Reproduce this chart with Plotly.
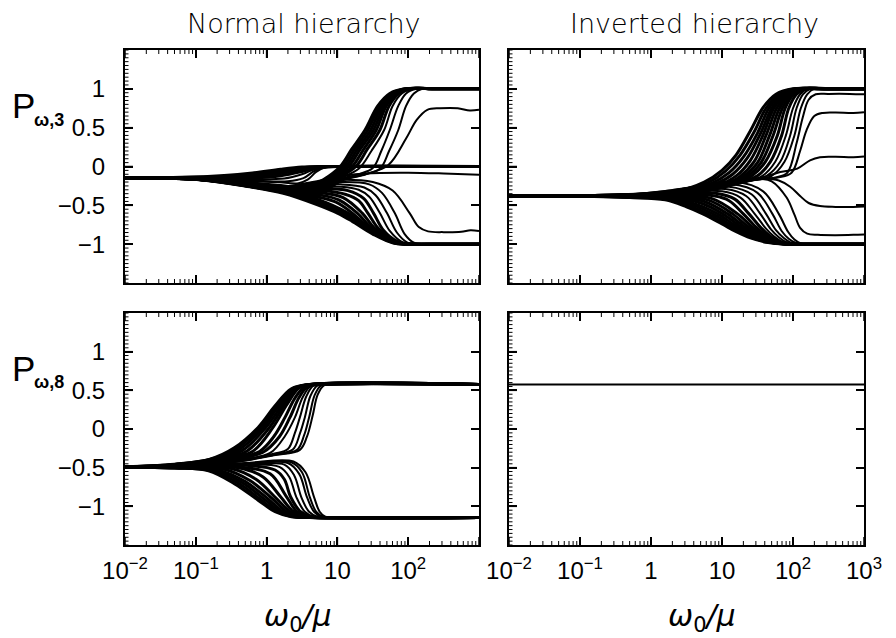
import plotly.graph_objects as go

# ---------------- data (knots) ----------------
# every curve = list of [log10(omega0/mu), P] knots
TL_TO_ZERO = [
    [[-2,-0.145],[-1.2,-0.14],[-0.6,-0.115],[-0.2,-0.082],[0.2,-0.035],[0.5,-0.008],[0.8,0],[1.3,0],[3,0]],
    [[-2,-0.145],[-1.2,-0.143],[-0.6,-0.126],[-0.2,-0.097],[0.2,-0.05],[0.5,-0.015],[0.8,-0.001],[1.3,0],[3,0]],
    [[-2,-0.145],[-1.2,-0.145],[-0.6,-0.136],[-0.2,-0.112],[0.2,-0.068],[0.5,-0.025],[0.8,-0.002],[1.3,0],[3,0]],
    [[-2,-0.145],[-1.2,-0.147],[-0.6,-0.146],[-0.2,-0.13],[0.2,-0.09],[0.5,-0.04],[0.75,-0.006],[1.3,0],[3,0]],
    [[-2,-0.145],[-1.2,-0.149],[-0.6,-0.155],[-0.2,-0.148],[0.2,-0.118],[0.5,-0.065],[0.72,-0.015],[1.0,0],[3,0]],
    [[-2,-0.145],[-1.2,-0.151],[-0.6,-0.162],[-0.2,-0.165],[0.25,-0.155],[0.5,-0.1],[0.7,-0.028],[0.95,0],[3,0]],
    [[-2,-0.145],[-1.2,-0.152],[-0.6,-0.168],[-0.2,-0.18],[0.3,-0.19],[0.52,-0.15],[0.68,-0.055],[0.88,-0.004],[1.2,0],[3,0]],
    [[-2,-0.145],[-1.2,-0.153],[-0.6,-0.172],[-0.2,-0.19],[0.15,-0.2],[0.45,-0.215],[0.58,-0.17],[0.7,-0.07],[0.82,-0.012],[1.0,0],[1.4,0],[3,0]],
]
TL_TO_PLUS = [
    [[-2,-0.145],[-1,-0.16],[-0.3,-0.205],[0.2,-0.245],[0.55,-0.27],[0.8,-0.17],[1.04,0.0],[1.2,0.22],[1.39,0.47],[1.57,0.78],[1.74,0.94],[1.95,1.0],[2.4,1.0],[3,1.0]],
    [[-2,-0.145],[-1,-0.161],[-0.3,-0.21],[0.2,-0.255],[0.58,-0.28],[0.84,-0.17],[1.08,0.0],[1.24,0.22],[1.43,0.47],[1.6,0.78],[1.77,0.94],[1.97,1.0],[2.4,1.0],[3,1.0]],
    [[-2,-0.145],[-1,-0.162],[-0.3,-0.215],[0.2,-0.265],[0.6,-0.29],[0.88,-0.17],[1.12,0.0],[1.28,0.22],[1.47,0.47],[1.63,0.78],[1.79,0.94],[1.98,1.0],[2.4,1.0],[3,1.0]],
    [[-2,-0.145],[-1,-0.163],[-0.3,-0.22],[0.2,-0.275],[0.62,-0.3],[0.92,-0.165],[1.16,0.0],[1.32,0.22],[1.51,0.47],[1.66,0.78],[1.81,0.94],[2.0,1.0],[2.4,1.0],[3,1.0]],
    [[-2,-0.145],[-1,-0.164],[-0.3,-0.225],[0.2,-0.285],[0.64,-0.31],[0.96,-0.16],[1.21,0.0],[1.37,0.22],[1.55,0.47],[1.69,0.78],[1.84,0.94],[2.02,1.0],[2.4,1.0],[3,1.0]],
    [[-2,-0.145],[-1,-0.165],[-0.3,-0.23],[0.2,-0.295],[0.66,-0.32],[1.0,-0.155],[1.26,0.0],[1.42,0.22],[1.6,0.47],[1.73,0.78],[1.87,0.94],[2.04,1.0],[2.4,1.0],[3,1.0]],
    [[-2,-0.145],[-1,-0.166],[-0.3,-0.235],[0.2,-0.305],[0.68,-0.33],[1.02,-0.16],[1.3,-0.03],[1.48,0.2],[1.66,0.47],[1.78,0.78],[1.91,0.94],[2.07,1.0],[2.5,1.0],[3,1.0]],
    [[-2,-0.145],[-1,-0.167],[-0.3,-0.24],[0.2,-0.315],[0.7,-0.34],[1.02,-0.17],[1.3,-0.1],[1.5,-0.02],[1.62,0.2],[1.74,0.47],[1.86,0.78],[1.97,0.94],[2.12,1.0],[2.5,1.0],[3,1.0]],
    [[-2,-0.145],[-1,-0.168],[-0.3,-0.245],[0.2,-0.325],[0.72,-0.35],[1.03,-0.18],[1.35,-0.11],[1.6,-0.03],[1.73,0.2],[1.86,0.47],[1.97,0.78],[2.08,0.94],[2.2,1.0],[2.6,1.0],[3,1.0]],
    [[-2,-0.145],[-1,-0.169],[-0.3,-0.25],[0.2,-0.33],[0.74,-0.36],[1.05,-0.19],[1.4,-0.1],[1.72,0.02],[1.97,0.36],[2.12,0.6],[2.27,0.73],[2.45,0.75],[2.7,0.75],[2.87,0.72],[3,0.73]],
]
TL_TO_MINUS = [
    [[-2,-0.145],[-0.94,-0.17],[-0.235,-0.262],[0.236,-0.345],[0.71,-0.49],[1.0,-0.6],[1.2,-0.7],[1.5,-0.87],[1.79,-0.985],[2.1,-1.0],[3,-1.0]],
    [[-2,-0.145],[-0.94,-0.169],[-0.235,-0.258],[0.236,-0.335],[0.71,-0.47],[1.05,-0.6],[1.25,-0.71],[1.55,-0.88],[1.82,-0.988],[2.1,-1.0],[3,-1.0]],
    [[-2,-0.145],[-0.94,-0.168],[-0.235,-0.254],[0.236,-0.325],[0.71,-0.445],[1.1,-0.6],[1.3,-0.72],[1.59,-0.89],[1.85,-0.99],[2.15,-1.0],[3,-1.0]],
    [[-2,-0.145],[-0.94,-0.167],[-0.235,-0.25],[0.236,-0.315],[0.71,-0.42],[1.15,-0.6],[1.35,-0.73],[1.63,-0.9],[1.88,-0.99],[2.15,-1.0],[3,-1.0]],
    [[-2,-0.145],[-0.94,-0.166],[-0.235,-0.246],[0.236,-0.305],[0.71,-0.39],[0.98,-0.46],[1.21,-0.6],[1.4,-0.75],[1.67,-0.91],[1.9,-0.99],[2.2,-1.0],[3,-1.0]],
    [[-2,-0.145],[-0.94,-0.165],[-0.235,-0.242],[0.236,-0.298],[0.71,-0.36],[1.02,-0.43],[1.28,-0.6],[1.46,-0.77],[1.71,-0.93],[1.93,-0.995],[2.2,-1.0],[3,-1.0]],
    [[-2,-0.145],[-0.94,-0.164],[-0.235,-0.238],[0.236,-0.29],[0.71,-0.33],[1.08,-0.4],[1.35,-0.6],[1.52,-0.79],[1.75,-0.94],[1.96,-0.998],[2.3,-1.0],[3,-1.0]],
    [[-2,-0.145],[-0.94,-0.163],[-0.235,-0.234],[0.236,-0.283],[0.71,-0.3],[1.12,-0.36],[1.3,-0.44],[1.43,-0.6],[1.58,-0.8],[1.79,-0.95],[1.99,-1.0],[2.3,-1.0],[3,-1.0]],
    [[-2,-0.145],[-0.94,-0.162],[-0.235,-0.23],[0.236,-0.277],[0.71,-0.28],[1.15,-0.31],[1.37,-0.41],[1.51,-0.6],[1.65,-0.82],[1.84,-0.96],[2.03,-1.0],[2.4,-1.0],[3,-1.0]],
    [[-2,-0.145],[-0.94,-0.161],[-0.235,-0.226],[0.236,-0.272],[0.71,-0.26],[1.05,-0.26],[1.3,-0.3],[1.45,-0.39],[1.6,-0.6],[1.74,-0.83],[1.91,-0.97],[2.08,-1.0],[2.4,-1.0],[3,-1.0]],
    [[-2,-0.145],[-0.94,-0.16],[-0.235,-0.222],[0.236,-0.268],[0.71,-0.24],[1.05,-0.23],[1.38,-0.27],[1.54,-0.37],[1.7,-0.6],[1.84,-0.85],[1.99,-0.98],[2.14,-1.0],[2.5,-1.0],[3,-1.0]],
    [[-2,-0.145],[-0.94,-0.159],[-0.235,-0.218],[0.236,-0.264],[0.71,-0.22],[1.05,-0.2],[1.45,-0.23],[1.63,-0.34],[1.81,-0.6],[1.95,-0.87],[2.08,-0.98],[2.22,-1.0],[2.6,-1.0],[3,-1.0]],
    [[-2,-0.145],[-0.94,-0.158],[-0.235,-0.214],[0.236,-0.26],[0.71,-0.2],[1.05,-0.17],[1.5,-0.2],[1.78,-0.31],[2.02,-0.6],[2.15,-0.78],[2.28,-0.835],[2.5,-0.845],[2.75,-0.84],[2.88,-0.82],[3,-0.83]],
    [[-2,-0.145],[-0.94,-0.157],[-0.235,-0.21],[0.236,-0.255],[0.71,-0.19],[1.0,-0.135],[1.25,-0.1],[1.6,-0.083],[2.0,-0.08],[2.5,-0.09],[3,-0.105]],
]
TR_TO_PLUS = [
    [[-2,-0.378],[-0.8,-0.372],[-0.2,-0.356],[0.35,-0.32],[0.75,-0.2],[1.0,-0.05],[1.2,0.15],[1.4,0.46],[1.58,0.76],[1.76,0.93],[2.0,1.0],[2.4,1.0],[3,1.0]],
    [[-2,-0.378],[-0.8,-0.373],[-0.2,-0.36],[0.4,-0.33],[0.8,-0.21],[1.05,-0.06],[1.25,0.14],[1.45,0.44],[1.62,0.75],[1.8,0.93],[2.03,1.0],[2.4,1.0],[3,1.0]],
    [[-2,-0.378],[-0.8,-0.374],[-0.2,-0.362],[0.4,-0.34],[0.85,-0.22],[1.1,-0.08],[1.3,0.12],[1.5,0.43],[1.66,0.75],[1.83,0.93],[2.05,1.0],[2.4,1.0],[3,1.0]],
    [[-2,-0.378],[-0.8,-0.375],[-0.2,-0.364],[0.4,-0.345],[0.9,-0.23],[1.15,-0.1],[1.35,0.1],[1.54,0.42],[1.7,0.75],[1.86,0.93],[2.07,1.0],[2.4,1.0],[3,1.0]],
    [[-2,-0.378],[-0.8,-0.375],[-0.2,-0.366],[0.4,-0.35],[0.95,-0.24],[1.2,-0.12],[1.4,0.08],[1.58,0.41],[1.73,0.75],[1.89,0.93],[2.09,1.0],[2.5,1.0],[3,1.0]],
    [[-2,-0.378],[-0.8,-0.376],[-0.2,-0.367],[0.4,-0.353],[1.0,-0.245],[1.25,-0.13],[1.45,0.06],[1.62,0.4],[1.77,0.75],[1.92,0.93],[2.11,1.0],[2.5,1.0],[3,1.0]],
    [[-2,-0.378],[-0.8,-0.376],[-0.2,-0.368],[0.4,-0.356],[1.05,-0.24],[1.3,-0.13],[1.5,0.05],[1.67,0.4],[1.81,0.75],[1.95,0.93],[2.12,1.0],[2.5,1.0],[3,1.0]],
    [[-2,-0.378],[-0.8,-0.377],[-0.2,-0.369],[0.4,-0.358],[1.1,-0.235],[1.35,-0.13],[1.55,0.05],[1.72,0.4],[1.85,0.75],[1.98,0.93],[2.14,1.0],[2.5,1.0],[3,1.0]],
    [[-2,-0.378],[-0.8,-0.377],[-0.2,-0.37],[0.4,-0.36],[1.15,-0.23],[1.42,-0.12],[1.61,0.06],[1.78,0.4],[1.89,0.75],[2.01,0.93],[2.16,1.0],[2.5,1.0],[3,1.0]],
    [[-2,-0.378],[-0.8,-0.377],[-0.2,-0.371],[0.4,-0.362],[1.2,-0.22],[1.5,-0.12],[1.68,0.06],[1.84,0.4],[1.94,0.75],[2.05,0.93],[2.18,1.0],[2.6,1.0],[3,1.0]],
    [[-2,-0.378],[-0.8,-0.377],[-0.2,-0.372],[0.4,-0.364],[1.25,-0.21],[1.57,-0.12],[1.75,0.06],[1.9,0.4],[2.0,0.75],[2.1,0.93],[2.21,1.0],[2.6,1.0],[3,1.0]],
    [[-2,-0.378],[-0.8,-0.378],[-0.2,-0.373],[0.4,-0.366],[1.3,-0.2],[1.63,-0.12],[1.82,0.06],[1.96,0.4],[2.05,0.75],[2.14,0.93],[2.25,1.0],[2.6,1.0],[3,1.0]],
    [[-2,-0.378],[-0.8,-0.378],[-0.2,-0.374],[0.4,-0.368],[1.35,-0.19],[1.7,-0.12],[1.88,0.06],[2.02,0.4],[2.11,0.75],[2.2,0.93],[2.3,1.0],[2.7,1.0],[3,1.0]],
    [[-2,-0.378],[-0.8,-0.378],[-0.2,-0.375],[0.4,-0.37],[1.4,-0.18],[1.75,-0.14],[1.92,-0.08],[2.05,0.3],[2.14,0.64],[2.22,0.86],[2.32,0.93],[2.5,0.935],[2.8,0.935],[3,0.93]],
    [[-2,-0.378],[-0.8,-0.378],[-0.2,-0.376],[0.4,-0.372],[1.45,-0.17],[1.8,-0.14],[1.98,-0.08],[2.1,0.2],[2.19,0.466],[2.3,0.65],[2.42,0.69],[2.6,0.695],[2.85,0.69],[3,0.7]],
    [[-2,-0.378],[-0.8,-0.378],[-0.2,-0.377],[0.4,-0.374],[1.5,-0.16],[1.82,-0.07],[2.06,-0.027],[2.24,0.08],[2.38,0.12],[2.6,0.125],[2.85,0.12],[3,0.13]],
]
TR_TO_MINUS = [
    [[-2,-0.378],[-0.8,-0.385],[-0.3,-0.4],[0.2,-0.43],[0.5,-0.52],[0.73,-0.61],[1.0,-0.74],[1.2,-0.84],[1.4,-0.92],[1.65,-0.98],[1.9,-1.0],[2.4,-1.0],[3,-1.0]],
    [[-2,-0.378],[-0.8,-0.384],[-0.3,-0.397],[0.2,-0.42],[0.55,-0.51],[0.8,-0.61],[1.06,-0.745],[1.26,-0.845],[1.45,-0.925],[1.69,-0.98],[1.92,-1.0],[2.4,-1.0],[3,-1.0]],
    [[-2,-0.378],[-0.8,-0.383],[-0.3,-0.394],[0.2,-0.41],[0.6,-0.5],[0.87,-0.61],[1.12,-0.75],[1.31,-0.85],[1.5,-0.93],[1.72,-0.982],[1.95,-1.0],[2.4,-1.0],[3,-1.0]],
    [[-2,-0.378],[-0.8,-0.382],[-0.3,-0.391],[0.2,-0.40],[0.65,-0.49],[0.94,-0.61],[1.18,-0.755],[1.36,-0.855],[1.54,-0.935],[1.75,-0.984],[1.97,-1.0],[2.4,-1.0],[3,-1.0]],
    [[-2,-0.378],[-0.8,-0.381],[-0.3,-0.388],[0.2,-0.39],[0.7,-0.47],[1.01,-0.61],[1.24,-0.76],[1.41,-0.86],[1.58,-0.94],[1.78,-0.986],[2.0,-1.0],[2.4,-1.0],[3,-1.0]],
    [[-2,-0.378],[-0.8,-0.38],[-0.3,-0.385],[0.2,-0.38],[0.75,-0.45],[1.08,-0.61],[1.3,-0.765],[1.46,-0.865],[1.62,-0.945],[1.81,-0.988],[2.02,-1.0],[2.4,-1.0],[3,-1.0]],
    [[-2,-0.378],[-0.8,-0.379],[-0.3,-0.382],[0.2,-0.37],[0.8,-0.43],[1.15,-0.61],[1.36,-0.77],[1.51,-0.87],[1.66,-0.95],[1.84,-0.99],[2.04,-1.0],[2.5,-1.0],[3,-1.0]],
    [[-2,-0.378],[-0.8,-0.378],[-0.3,-0.379],[0.2,-0.362],[0.85,-0.41],[1.22,-0.61],[1.42,-0.775],[1.56,-0.875],[1.7,-0.955],[1.87,-0.992],[2.06,-1.0],[2.5,-1.0],[3,-1.0]],
    [[-2,-0.378],[-0.8,-0.377],[-0.3,-0.376],[0.2,-0.355],[0.9,-0.38],[1.1,-0.44],[1.3,-0.61],[1.48,-0.78],[1.61,-0.88],[1.75,-0.96],[1.9,-0.994],[2.08,-1.0],[2.5,-1.0],[3,-1.0]],
    [[-2,-0.378],[-0.8,-0.377],[-0.3,-0.373],[0.2,-0.35],[0.95,-0.35],[1.18,-0.42],[1.38,-0.61],[1.55,-0.79],[1.67,-0.89],[1.8,-0.965],[1.94,-0.996],[2.1,-1.0],[2.5,-1.0],[3,-1.0]],
    [[-2,-0.378],[-0.8,-0.376],[-0.3,-0.37],[0.2,-0.345],[1.0,-0.32],[1.26,-0.4],[1.46,-0.61],[1.62,-0.8],[1.73,-0.9],[1.85,-0.97],[1.98,-0.997],[2.12,-1.0],[2.5,-1.0],[3,-1.0]],
    [[-2,-0.378],[-0.8,-0.376],[-0.3,-0.368],[0.2,-0.34],[1.05,-0.29],[1.34,-0.38],[1.54,-0.61],[1.69,-0.81],[1.8,-0.91],[1.91,-0.975],[2.03,-0.998],[2.15,-1.0],[2.6,-1.0],[3,-1.0]],
    [[-2,-0.378],[-0.8,-0.375],[-0.3,-0.366],[0.2,-0.335],[1.1,-0.26],[1.42,-0.36],[1.62,-0.61],[1.76,-0.82],[1.87,-0.92],[1.97,-0.98],[2.08,-1.0],[2.6,-1.0],[3,-1.0]],
    [[-2,-0.378],[-0.8,-0.375],[-0.3,-0.364],[0.2,-0.33],[1.15,-0.23],[1.5,-0.34],[1.71,-0.61],[1.84,-0.83],[1.94,-0.93],[2.04,-0.985],[2.14,-1.0],[2.6,-1.0],[3,-1.0]],
    [[-2,-0.378],[-0.8,-0.374],[-0.3,-0.362],[0.2,-0.325],[1.2,-0.2],[1.58,-0.32],[1.8,-0.61],[1.93,-0.84],[2.02,-0.94],[2.11,-0.99],[2.2,-1.0],[2.6,-1.0],[3,-1.0]],
    [[-2,-0.378],[-0.8,-0.374],[-0.3,-0.36],[0.2,-0.32],[1.25,-0.18],[1.55,-0.16],[1.7,-0.19],[1.91,-0.4],[2.02,-0.62],[2.1,-0.79],[2.2,-0.865],[2.35,-0.88],[2.6,-0.884],[2.85,-0.88],[3,-0.875]],
    [[-2,-0.378],[-0.8,-0.374],[-0.3,-0.358],[0.2,-0.315],[1.3,-0.17],[1.6,-0.155],[1.8,-0.18],[1.96,-0.26],[2.1,-0.38],[2.22,-0.47],[2.38,-0.51],[2.6,-0.52],[2.85,-0.52],[3,-0.515]],
]
BL_TO_PLUS = [
    [[-2,-0.49],[-1.3,-0.455],[-0.8,-0.39],[-0.45,-0.24],[-0.12,0.02],[0.12,0.30],[0.35,0.52],[0.6,0.575],[3,0.575]],
    [[-2,-0.49],[-1.3,-0.458],[-0.8,-0.395],[-0.42,-0.25],[-0.09,0.02],[0.15,0.30],[0.37,0.52],[0.61,0.575],[3,0.575]],
    [[-2,-0.49],[-1.3,-0.46],[-0.8,-0.40],[-0.38,-0.26],[-0.05,0.02],[0.18,0.31],[0.39,0.52],[0.62,0.575],[3,0.575]],
    [[-2,-0.49],[-1.2,-0.463],[-0.7,-0.39],[-0.33,-0.27],[-0.01,0.02],[0.22,0.31],[0.42,0.53],[0.64,0.575],[3,0.575]],
    [[-2,-0.49],[-1.2,-0.465],[-0.6,-0.38],[-0.27,-0.28],[0.04,0.02],[0.26,0.32],[0.45,0.53],[0.66,0.575],[3,0.575]],
    [[-2,-0.49],[-1.2,-0.467],[-0.6,-0.385],[-0.2,-0.29],[0.09,0.02],[0.29,0.32],[0.47,0.54],[0.68,0.575],[3,0.575]],
    [[-2,-0.49],[-1.1,-0.47],[-0.5,-0.39],[-0.1,-0.29],[0.1,-0.1],[0.26,0.15],[0.4,0.40],[0.53,0.54],[0.7,0.575],[3,0.575]],
    [[-2,-0.49],[-1.1,-0.47],[-0.5,-0.395],[-0.05,-0.30],[0.18,-0.1],[0.33,0.15],[0.46,0.41],[0.58,0.55],[0.74,0.575],[3,0.575]],
    [[-2,-0.49],[-1.0,-0.47],[-0.4,-0.40],[0.05,-0.31],[0.26,-0.09],[0.40,0.15],[0.51,0.41],[0.62,0.555],[0.77,0.575],[3,0.575]],
    [[-2,-0.49],[-1.0,-0.47],[-0.4,-0.41],[0.1,-0.32],[0.3,-0.26],[0.4,-0.05],[0.47,0.15],[0.56,0.42],[0.66,0.56],[0.8,0.575],[3,0.575]],
    [[-2,-0.49],[-1.0,-0.47],[-0.4,-0.415],[0.1,-0.33],[0.37,-0.265],[0.47,-0.06],[0.54,0.15],[0.62,0.43],[0.72,0.565],[0.85,0.575],[3,0.575]],
    [[-2,-0.49],[-1.0,-0.47],[-0.4,-0.42],[0.1,-0.335],[0.43,-0.27],[0.53,-0.08],[0.6,0.15],[0.68,0.44],[0.77,0.565],[0.9,0.575],[3,0.575]],
    [[-2,-0.49],[-1.0,-0.47],[-0.4,-0.42],[0.1,-0.34],[0.47,-0.27],[0.57,-0.1],[0.65,0.17],[0.72,0.44],[0.81,0.565],[0.95,0.575],[3,0.575]],
]
BL_TO_MINUS = [
    [[-2,-0.49],[-1.3,-0.505],[-0.82,-0.54],[-0.45,-0.71],[-0.12,-0.92],[0.12,-1.07],[0.35,-1.135],[0.6,-1.145],[3,-1.145]],
    [[-2,-0.49],[-1.3,-0.503],[-0.8,-0.535],[-0.4,-0.70],[-0.08,-0.915],[0.15,-1.07],[0.38,-1.135],[0.62,-1.145],[3,-1.145]],
    [[-2,-0.49],[-1.3,-0.5],[-0.75,-0.53],[-0.35,-0.69],[-0.03,-0.91],[0.19,-1.07],[0.41,-1.135],[0.64,-1.145],[3,-1.145]],
    [[-2,-0.49],[-1.2,-0.498],[-0.7,-0.525],[-0.3,-0.68],[0.02,-0.905],[0.23,-1.07],[0.44,-1.135],[0.66,-1.145],[3,-1.145]],
    [[-2,-0.49],[-1.2,-0.495],[-0.6,-0.52],[-0.23,-0.67],[0.08,-0.9],[0.28,-1.07],[0.48,-1.135],[0.68,-1.145],[3,-1.145]],
    [[-2,-0.49],[-1.2,-0.49],[-0.5,-0.51],[-0.15,-0.65],[0.14,-0.9],[0.33,-1.07],[0.52,-1.135],[0.7,-1.145],[3,-1.145]],
    [[-2,-0.49],[-1.1,-0.487],[-0.4,-0.5],[-0.05,-0.62],[0.2,-0.88],[0.38,-1.07],[0.56,-1.135],[0.73,-1.145],[3,-1.145]],
    [[-2,-0.49],[-1.1,-0.485],[-0.4,-0.49],[0.05,-0.58],[0.27,-0.86],[0.43,-1.07],[0.6,-1.135],[0.76,-1.145],[3,-1.145]],
    [[-2,-0.49],[-1.0,-0.483],[-0.3,-0.47],[0.12,-0.53],[0.25,-0.65],[0.34,-0.88],[0.48,-1.07],[0.63,-1.135],[0.8,-1.145],[3,-1.145]],
    [[-2,-0.49],[-1.0,-0.48],[-0.3,-0.46],[0.18,-0.49],[0.32,-0.62],[0.42,-0.88],[0.54,-1.07],[0.67,-1.135],[0.83,-1.145],[3,-1.145]],
    [[-2,-0.49],[-1.0,-0.48],[-0.3,-0.455],[0.25,-0.46],[0.39,-0.6],[0.49,-0.88],[0.6,-1.07],[0.72,-1.135],[0.88,-1.145],[3,-1.145]],
    [[-2,-0.49],[-1.0,-0.478],[-0.3,-0.45],[0.3,-0.44],[0.46,-0.58],[0.57,-0.88],[0.67,-1.07],[0.78,-1.135],[0.92,-1.145],[3,-1.145]],
    [[-2,-0.49],[-1.0,-0.475],[-0.3,-0.445],[0.35,-0.43],[0.5,-0.56],[0.61,-0.88],[0.7,-1.07],[0.8,-1.135],[0.93,-1.145],[3,-1.145]],
    [[-2,-0.49],[-1.0,-0.475],[-0.3,-0.44],[0.38,-0.42],[0.55,-0.56],[0.67,-0.88],[0.75,-1.07],[0.83,-1.135],[0.97,-1.145],[3,-1.145]],
]
BR_FLAT = [
    [[-2,0.575],[3,0.575]],
]

X_TICK_VALS = [0.01, 0.1, 1, 10, 100, 1000]
X_TICK_TEXT_LEFT = ["10<sup>−2</sup>", "10<sup>−1</sup>", "1", "10", "10<sup>2</sup>", ""]
X_TICK_TEXT_RIGHT = ["10<sup>−2</sup>", "10<sup>−1</sup>", "1", "10", "10<sup>2</sup>", "10<sup>3</sup>"]
Y_TICK_VALS = [-1, -0.5, 0, 0.5, 1]
Y_TICK_TEXT = ["−1", "−0.5", "0", "0.5", "1"]
PANEL_TITLES = ["Normal hierarchy", "Inverted hierarchy"]
Y_LABEL_SUBS = ["ω,3", "ω,8"]
X_LABEL = "<i>ω</i><sub>0</sub><i>/μ</i>"

# ---------------- figure ----------------
W, H = 896, 638
fig = go.Figure()

# (x axis, y axis, curve groups, number of densely packed curves at the start of each group)
PANELS = [
    ("x", "y", [(TL_TO_ZERO, 5), (TL_TO_PLUS, 6), (TL_TO_MINUS, 9)]),
    ("x2", "y2", [(TR_TO_PLUS, 10), (TR_TO_MINUS, 10)]),
    ("x3", "y3", [(BL_TO_PLUS, 8), (BL_TO_MINUS, 9)]),
    ("x4", "y4", [(BR_FLAT, 0)]),
]
for xa, ya, groups in PANELS:
    for curves, ndense in groups:
        for i, c in enumerate(curves):
            fig.add_trace(go.Scatter(
                x=[10 ** p[0] for p in c], y=[p[1] for p in c],
                mode="lines", xaxis=xa, yaxis=ya,
                line=dict(color="black", width=3.0 if i < ndense else 2.0,
                          shape="spline", smoothing=1.0),
                hoverinfo="skip", showlegend=False))

colL = [125 / W, 479 / W]
colR = [509 / W, 864 / W]
rowT = [1 - 283 / H, 1 - 50 / H]
rowB = [1 - 545 / H, 1 - 313 / H]

tickfont = dict(family="Liberation Sans, Arial, sans-serif", size=24, color="black")

def xaxis(domain, anchor, labels):
    d = dict(type="log", range=[-2, 3], domain=domain, anchor=anchor,
             showline=True, linecolor="black", linewidth=2, mirror="ticks",
             ticks="inside", ticklen=8, tickwidth=1.5, tickcolor="black",
             tickmode="array", tickvals=X_TICK_VALS,
             showgrid=False, zeroline=False, automargin=False,
             tickfont=tickfont, fixedrange=True)
    if labels is None:
        d["showticklabels"] = False
    else:
        d["ticktext"] = labels
        d["ticklabelstandoff"] = 3
    return d

def yaxis(domain, anchor, labels):
    d = dict(range=[-1.5, 1.5], domain=domain, anchor=anchor,
             showline=True, linecolor="black", linewidth=2, mirror="ticks",
             ticks="inside", ticklen=8, tickwidth=1.5, tickcolor="black",
             tickmode="array", tickvals=Y_TICK_VALS,
             showgrid=False, zeroline=False, automargin=False,
             tickfont=tickfont, fixedrange=True)
    if labels:
        d["ticktext"] = Y_TICK_TEXT
        d["ticklabelstandoff"] = 13
    else:
        d["showticklabels"] = False
    return d

fig.update_layout(
    width=W, height=H, autosize=False,
    margin=dict(l=0, r=0, t=0, b=0, pad=0),
    paper_bgcolor="white", plot_bgcolor="white",
    showlegend=False,
    xaxis=xaxis(colL, "y", None),
    yaxis=yaxis(rowT, "x", True),
    xaxis2=xaxis(colR, "y2", None),
    yaxis2=yaxis(rowT, "x2", False),
    xaxis3=xaxis(colL, "y3", X_TICK_TEXT_LEFT),
    yaxis3=yaxis(rowB, "x3", True),
    xaxis4=xaxis(colR, "y4", X_TICK_TEXT_RIGHT),
    yaxis4=yaxis(rowB, "x4", False),
)

# tick marks as pixel-length line shapes on all four sides of every panel
x_major = X_TICK_VALS
x_minor = [k * 10.0 ** e for e in range(-2, 3) for k in range(2, 10)]
y_major = Y_TICK_VALS
y_minor = [round(-1.5 + 0.05 * i, 3) for i in range(61)]
shapes = []
for xa, ya, _ in PANELS:
    for vals, L, w in ((x_major, 8, 1.5), (x_minor, 4, 1.0)):
        for v in vals:
            for anc, sign in ((0, 1), (1, -1)):
                shapes.append(dict(type="line", xref=xa, yref=ya + " domain",
                                   x0=v, x1=v, ysizemode="pixel", yanchor=anc,
                                   y0=0, y1=sign * L, line=dict(color="black", width=w)))
    for vals, L, w in ((y_major, 8, 1.5), (y_minor, 3.5, 1.0)):
        for v in vals:
            for anc, sign in ((0.01, 1), (1000, -1)):
                shapes.append(dict(type="line", yref=ya, xref=xa,
                                   y0=v, y1=v, xsizemode="pixel", xanchor=anc,
                                   x0=0, x1=sign * L, line=dict(color="black", width=w)))
fig.update_layout(shapes=shapes)

ann = []
title_font = dict(family="DejaVu Sans", size=27, color="black", weight=300)
for title, cx in zip(PANEL_TITLES, [304, 694]):
    ann.append(dict(text=title, x=cx / W, y=1 - 23 / H, xref="paper", yref="paper",
                    xanchor="center", yanchor="middle", showarrow=False, font=title_font))
for sub, py in zip(Y_LABEL_SUBS, [106, 368]):
    ann.append(dict(text="P", x=23 / W, y=1 - py / H, xref="paper", yref="paper",
                    xanchor="center", yanchor="middle", showarrow=False,
                    font=dict(family="Liberation Sans", size=35, color="black")))
    ann.append(dict(text="<b>" + sub + "</b>", x=49 / W, y=1 - (py + 14) / H,
                    xref="paper", yref="paper", xanchor="center", yanchor="middle",
                    showarrow=False,
                    font=dict(family="Liberation Sans", size=18, color="black")))
for cx in [298, 702]:
    ann.append(dict(text=X_LABEL, x=cx / W, y=1 - 617 / H, xref="paper", yref="paper",
                    xanchor="center", yanchor="middle", showarrow=False,
                    font=dict(family="DejaVu Sans", size=30, color="black")))
fig.update_layout(annotations=ann)

fig.write_html("out.html")
